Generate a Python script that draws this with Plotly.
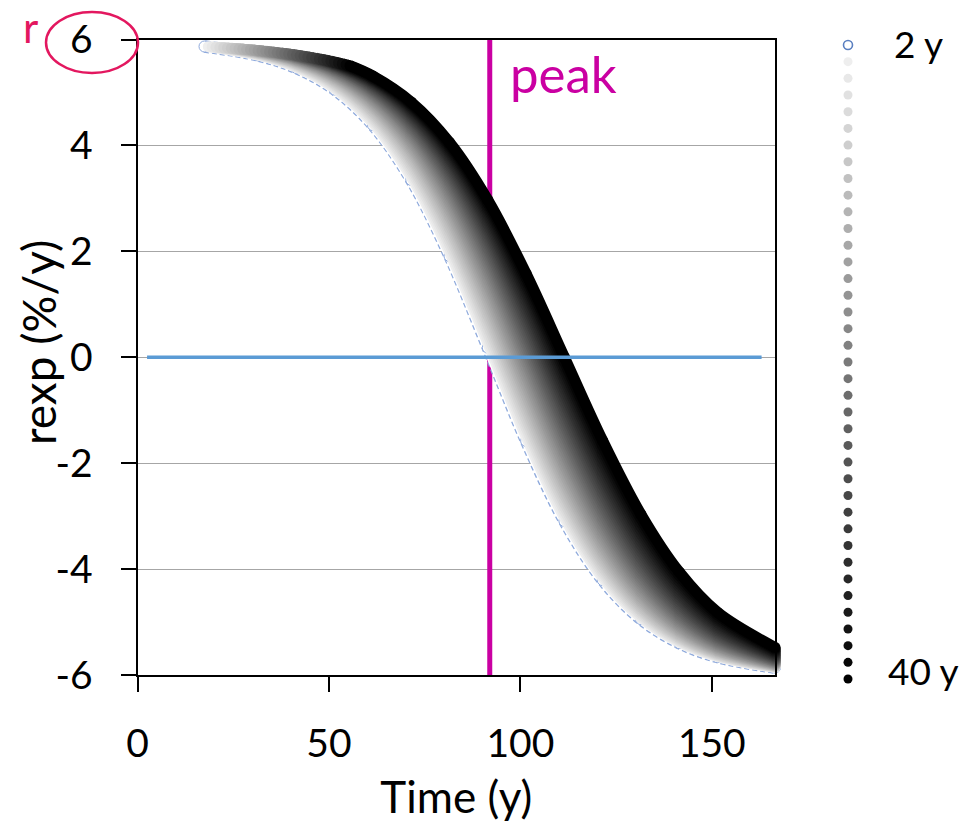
import plotly.graph_objects as go

# ---------------------------------------------------------------------------
# Data: exponential growth rate rexp (%/y) estimated over moving windows
# ---------------------------------------------------------------------------
WINDOWS = [2, 3, 4, 5, 6, 7, 8, 9, 10, 11, 12, 13, 14, 15, 16, 17, 18, 19, 20,
           21, 22, 23, 24, 25, 26, 27, 28, 29, 30, 31, 32, 33, 34, 35, 36, 37,
           38, 39, 40]

# first year available for each window, and its rate there
START_T = [17.5, 18.5, 19.5, 20.5, 21.5, 22.5, 23.5, 24.5, 25.5, 26.5, 27.5,
           28.5, 29.5, 30.5, 31.5, 32.5, 33.5, 34.5, 35.5, 36.5, 37.5, 38.5,
           39.5, 40.5, 41.5, 42.5, 43.5, 44.5, 45.5, 46.5, 47.5, 48.5, 49.5,
           50.5, 51.5, 52.5, 53.5, 54.5, 55.5]
R_START = [5.868, 5.864, 5.860, 5.855, 5.851, 5.846, 5.841, 5.836, 5.831,
           5.825, 5.819, 5.813, 5.807, 5.800, 5.793, 5.786, 5.779, 5.771,
           5.763, 5.754, 5.745, 5.736, 5.727, 5.717, 5.706, 5.696, 5.684,
           5.672, 5.660, 5.648, 5.634, 5.620, 5.606, 5.591, 5.575, 5.559,
           5.542, 5.525, 5.506]

# sampling years; each R_Txxx list holds one value per window already started
GRID_T = [31.5, 41.5, 51.5, 61.5, 71.5, 81.5, 91.5, 101.5, 111.5, 121.5,
          131.5, 141.5, 151.5, 166.5]

R_T031 = [5.699, 5.707, 5.715, 5.723, 5.731, 5.738, 5.745, 5.752, 5.759,
          5.765, 5.771, 5.777, 5.782, 5.788]
R_T041 = [5.462, 5.477, 5.492, 5.505, 5.519, 5.531, 5.544, 5.556, 5.567,
          5.579, 5.589, 5.600, 5.610, 5.619, 5.629, 5.638, 5.646, 5.655,
          5.663, 5.671, 5.678, 5.686, 5.693, 5.700]
R_T051 = [5.055, 5.080, 5.105, 5.128, 5.151, 5.173, 5.195, 5.215, 5.235,
          5.254, 5.273, 5.291, 5.308, 5.325, 5.341, 5.357, 5.372, 5.387,
          5.401, 5.415, 5.428, 5.441, 5.454, 5.466, 5.477, 5.489, 5.499,
          5.510, 5.520, 5.530, 5.540, 5.549, 5.558, 5.567]
R_T061 = [4.383, 4.424, 4.463, 4.502, 4.539, 4.575, 4.610, 4.644, 4.677,
          4.709, 4.740, 4.770, 4.799, 4.828, 4.855, 4.881, 4.907, 4.932,
          4.956, 4.979, 5.002, 5.024, 5.045, 5.066, 5.086, 5.105, 5.124,
          5.142, 5.160, 5.177, 5.194, 5.210, 5.225, 5.240, 5.255, 5.269,
          5.283, 5.297, 5.310]
R_T071 = [3.348, 3.408, 3.467, 3.525, 3.582, 3.637, 3.691, 3.743, 3.794,
          3.844, 3.892, 3.939, 3.985, 4.030, 4.073, 4.116, 4.157, 4.197,
          4.236, 4.273, 4.310, 4.346, 4.380, 4.414, 4.447, 4.479, 4.510,
          4.540, 4.569, 4.597, 4.625, 4.651, 4.677, 4.703, 4.727, 4.751,
          4.774, 4.796, 4.818]
R_T081 = [1.911, 1.990, 2.069, 2.147, 2.223, 2.298, 2.372, 2.445, 2.516,
          2.586, 2.654, 2.722, 2.788, 2.852, 2.916, 2.977, 3.038, 3.097,
          3.155, 3.211, 3.267, 3.320, 3.373, 3.424, 3.474, 3.523, 3.571,
          3.617, 3.662, 3.706, 3.749, 3.791, 3.832, 3.872, 3.910, 3.948,
          3.985, 4.021, 4.056]
R_T091 = [0.180, 0.270, 0.359, 0.448, 0.537, 0.625, 0.713, 0.800, 0.887,
          0.973, 1.057, 1.141, 1.225, 1.307, 1.388, 1.468, 1.547, 1.625,
          1.701, 1.777, 1.851, 1.924, 1.996, 2.066, 2.135, 2.203, 2.270,
          2.335, 2.399, 2.462, 2.523, 2.583, 2.642, 2.699, 2.756, 2.811,
          2.864, 2.917, 2.968]
R_T101 = [-1.581, -1.497, -1.411, -1.325, -1.239, -1.151, -1.064, -0.975,
          -0.887, -0.798, -0.709, -0.620, -0.531, -0.442, -0.353, -0.264,
          -0.176, -0.088, 0.000, 0.087, 0.174, 0.260, 0.345, 0.429, 0.513,
          0.596, 0.678, 0.759, 0.839, 0.918, 0.995, 1.072, 1.148, 1.222,
          1.296, 1.368, 1.439, 1.509, 1.577]
R_T111 = [-3.092, -3.024, -2.955, -2.885, -2.814, -2.741, -2.667, -2.592,
          -2.516, -2.438, -2.360, -2.281, -2.200, -2.119, -2.037, -1.954,
          -1.870, -1.786, -1.701, -1.616, -1.530, -1.444, -1.358, -1.271,
          -1.185, -1.098, -1.011, -0.925, -0.839, -0.753, -0.667, -0.581,
          -0.497, -0.412, -0.328, -0.245, -0.163, -0.081, 0.000]
R_T121 = [-4.208, -4.161, -4.112, -4.063, -4.012, -3.959, -3.906, -3.850,
          -3.794, -3.736, -3.677, -3.616, -3.554, -3.491, -3.426, -3.360,
          -3.293, -3.225, -3.155, -3.084, -3.012, -2.939, -2.864, -2.789,
          -2.713, -2.635, -2.557, -2.478, -2.399, -2.319, -2.238, -2.156,
          -2.074, -1.992, -1.910, -1.827, -1.744, -1.661, -1.577]
R_T131 = [-4.945, -4.915, -4.885, -4.853, -4.820, -4.786, -4.751, -4.715,
          -4.677, -4.639, -4.599, -4.558, -4.516, -4.472, -4.428, -4.382,
          -4.334, -4.286, -4.236, -4.184, -4.132, -4.078, -4.022, -3.965,
          -3.907, -3.848, -3.787, -3.726, -3.662, -3.598, -3.532, -3.465,
          -3.398, -3.328, -3.258, -3.187, -3.115, -3.042, -2.968]
R_T141 = [-5.397, -5.379, -5.361, -5.342, -5.322, -5.301, -5.280, -5.258,
          -5.235, -5.211, -5.187, -5.161, -5.135, -5.108, -5.079, -5.050,
          -5.020, -4.988, -4.956, -4.923, -4.888, -4.852, -4.815, -4.777,
          -4.738, -4.698, -4.656, -4.613, -4.569, -4.523, -4.476, -4.428,
          -4.379, -4.328, -4.276, -4.223, -4.168, -4.113, -4.056]
R_T151 = [-5.662, -5.651, -5.641, -5.630, -5.618, -5.606, -5.594, -5.581,
          -5.567, -5.553, -5.539, -5.524, -5.508, -5.492, -5.475, -5.458,
          -5.440, -5.421, -5.401, -5.381, -5.360, -5.338, -5.315, -5.292,
          -5.267, -5.242, -5.215, -5.188, -5.160, -5.131, -5.100, -5.069,
          -5.037, -5.003, -4.968, -4.933, -4.896, -4.858, -4.818]
R_T166 = [-5.860, -5.856, -5.851, -5.847, -5.842, -5.837, -5.831, -5.826,
          -5.820, -5.814, -5.808, -5.802, -5.795, -5.788, -5.781, -5.773,
          -5.765, -5.757, -5.748, -5.739, -5.730, -5.720, -5.710, -5.700,
          -5.689, -5.677, -5.665, -5.653, -5.640, -5.627, -5.613, -5.598,
          -5.583, -5.567, -5.550, -5.533, -5.515, -5.497, -5.478]

PEAK_T = 92.0                 # year of the production peak
ZERO_T = [2.5, 163.0]         # zero-rate reference line
ZERO_R = [0.0, 0.0]

X_TICKS = [0, 50, 100, 150]
Y_TICKS = [-6, -4, -2, 0, 2, 4, 6]
X_RANGE = [0, 166.5]

# ---------------------------------------------------------------------------
# Styling
# ---------------------------------------------------------------------------
W, H = 975, 827
FONT = "Lato"
MAGENTA = "#CA00A2"
CRIMSON = "#E3175F"
ZERO_BLUE = "#5B9BD5"
EDGE_BLUE = "#8FAADC"
MARK_BLUE = "#5A7FC0"
BAND_W = 11

GRID_COLUMNS = [R_T031, R_T041, R_T051, R_T061, R_T071, R_T081, R_T091,
                R_T101, R_T111, R_T121, R_T131, R_T141, R_T151, R_T166]


def window_points(i):
    ts, rs = [START_T[i]], [R_START[i]]
    for t, col in zip(GRID_T, GRID_COLUMNS):
        if i < len(col):
            ts.append(t)
            rs.append(col[i])
    return ts, rs


def shade(n):
    if n == WINDOWS[0]:
        return "white"
    f = 1 - (n - WINDOWS[1]) / (WINDOWS[-1] - WINDOWS[1])
    g = round(238 * f)
    return f"rgb({g},{g},{g})"


def px_x(p):
    return p / W


def px_y(p):
    return 1 - p / H


fig = go.Figure()

# peak year marker (behind the curves)
fig.add_trace(go.Scatter(
    x=[PEAK_T, PEAK_T], y=[Y_TICKS[0], Y_TICKS[-1]], mode="lines",
    line=dict(color=MAGENTA, width=5), hoverinfo="skip"))

# one thick curve per averaging window, shortest first so 40 y ends on top
for i, n in enumerate(WINDOWS):
    ts, rs = window_points(i)
    if i == 0:
        fig.add_trace(go.Scatter(
            x=ts, y=rs, mode="lines", cliponaxis=False,
            line=dict(color=EDGE_BLUE, width=BAND_W + 1.5, shape="spline",
                      dash="5px,3px"),
            hoverinfo="skip"))
        fig.add_trace(go.Scatter(
            x=ts, y=rs, mode="lines+markers", cliponaxis=False,
            name=f"{n} y",
            line=dict(color="white", width=BAND_W - 1, shape="spline"),
            marker=dict(size=BAND_W, color="white",
                        line=dict(color=EDGE_BLUE, width=1))))
    else:
        c = shade(n)
        fig.add_trace(go.Scatter(
            x=ts, y=rs, mode="lines+markers", cliponaxis=False,
            name=f"{n} y",
            line=dict(color=c, width=BAND_W, shape="spline"),
            marker=dict(size=BAND_W, color=c, line=dict(width=0))))

# zero reference line (on top of the band)
fig.add_trace(go.Scatter(
    x=ZERO_T, y=ZERO_R, mode="lines",
    line=dict(color=ZERO_BLUE, width=3.5), hoverinfo="skip"))

# window key drawn as a column of dots
fig.add_trace(go.Scatter(
    x=[0] * len(WINDOWS), y=WINDOWS, mode="markers",
    xaxis="x2", yaxis="y2",
    marker=dict(size=9, color=[shade(n) for n in WINDOWS],
                line=dict(color=[MARK_BLUE] + ["rgba(0,0,0,0)"] * (len(WINDOWS) - 1),
                          width=[1.6] + [0] * (len(WINDOWS) - 1))),
    hoverinfo="skip"))

plot_left, plot_right, plot_top, plot_bottom = 137.5, 775, 39.5, 675
key_top, key_bottom = 45, 679
unit = (key_bottom - key_top) / (WINDOWS[-1] - WINDOWS[0])

axis_common = dict(
    showline=True, linecolor="black", linewidth=2, mirror=True,
    ticks="outside", ticklen=15, tickwidth=1.5, tickcolor="black",
    zeroline=False, automargin=False,
    tickfont=dict(family=FONT, size=39, color="black"),
)

fig.update_layout(
    width=W, height=H, template="none",
    margin=dict(l=0, r=0, t=0, b=0),
    paper_bgcolor="white", plot_bgcolor="white",
    showlegend=False,
    font=dict(family=FONT, color="black"),
    xaxis=dict(
        domain=[px_x(plot_left), px_x(plot_right)], range=X_RANGE,
        tickvals=X_TICKS, ticktext=[str(v) for v in X_TICKS],
        showgrid=False, ticklabelstandoff=18,
        title=dict(text="Time (y)", font=dict(family=FONT, size=44),
                   standoff=18),
        **axis_common),
    yaxis=dict(
        domain=[px_y(plot_bottom), px_y(plot_top)],
        range=[Y_TICKS[0], Y_TICKS[-1]],
        tickvals=Y_TICKS, ticktext=[str(v) for v in Y_TICKS],
        showgrid=True, gridcolor="#A6A6A6", gridwidth=1,
        ticklabelstandoff=20,
        **axis_common),
    xaxis2=dict(domain=[px_x(835), px_x(861)], range=[-1, 1],
                visible=False, anchor="y2", fixedrange=True),
    yaxis2=dict(domain=[0, 1],
                range=[WINDOWS[-1] + (H - key_bottom) / unit,
                       WINDOWS[0] - key_top / unit],
                visible=False, anchor="x2", fixedrange=True),
)

# y-axis title, rotated
fig.add_annotation(
    x=px_x(38), y=px_y(343), xref="paper", yref="paper",
    text="rexp (%/y)", textangle=-90, showarrow=False,
    xanchor="center", yanchor="middle",
    font=dict(family=FONT, size=46, color="black"))

fig.add_annotation(
    x=PEAK_T, y=5.35, xref="x", yref="y", text="peak", showarrow=False,
    xanchor="left", yanchor="middle", xshift=18,
    font=dict(family=FONT, size=51, color=MAGENTA))

fig.add_annotation(
    x=px_x(30), y=1, xref="paper", yref="paper", text="r",
    showarrow=False, xanchor="center", yanchor="top",
    font=dict(family=FONT, size=42, color=CRIMSON))

fig.add_shape(
    type="circle", xref="paper", yref="paper",
    x0=px_x(46), x1=px_x(138), y0=px_y(73), y1=px_y(12),
    line=dict(color=CRIMSON, width=2.5))

fig.add_annotation(
    x=0, y=WINDOWS[0], xref="x2", yref="y2", text=f"{WINDOWS[0]} y",
    showarrow=False, xanchor="left", yanchor="middle", xshift=44, yshift=2,
    font=dict(family=FONT, size=37, color="black"))
fig.add_annotation(
    x=0, y=WINDOWS[-1], xref="x2", yref="y2", text=f"{WINDOWS[-1]} y",
    showarrow=False, xanchor="left", yanchor="middle", xshift=38, yshift=9,
    font=dict(family=FONT, size=37, color="black"))

fig.write_html("out.html")
